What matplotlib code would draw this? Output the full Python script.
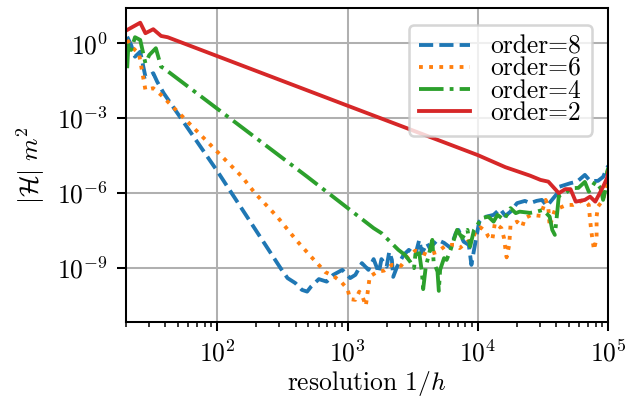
import numpy as np
import matplotlib
matplotlib.use("Agg")
import matplotlib.pyplot as plt

# Computer Modern look without a LaTeX install
plt.rcParams['font.family'] = 'serif'
plt.rcParams['font.serif'] = ['cmr10']
plt.rcParams['mathtext.fontset'] = 'cm'
plt.rcParams['axes.formatter.use_mathtext'] = True
plt.rcParams['axes.unicode_minus'] = False

# (log10 resolution, log10 |H|) pairs
order8 = [(1.31, 0.26), (1.34, -0.07), (1.37, -0.54), (1.41, -0.34), (1.45, -1.34),
          (1.49, -1.27), (1.51, -1.20), (1.54, -1.54), (1.59, -2.00), (2.00, -5.11),
          (2.49, -9.03), (2.54, -9.40), (2.60, -9.60), (2.65, -9.87), (2.69, -9.94),
          (2.72, -9.74), (2.78, -9.44), (2.84, -9.54), (2.89, -9.27), (2.96, -9.07),
          (3.02, -9.40), (3.06, -9.27), (3.11, -8.80), (3.16, -9.07), (3.20, -8.64),
          (3.24, -9.19), (3.26, -8.64), (3.30, -8.94), (3.32, -8.34), (3.34, -8.67),
          (3.35, -9.35), (3.38, -8.94), (3.43, -8.47), (3.47, -8.27), (3.52, -8.47),
          (3.55, -7.87), (3.57, -8.40), (3.61, -8.00), (3.63, -8.20), (3.69, -7.87),
          (3.74, -7.99), (3.79, -8.19), (3.83, -7.60), (3.85, -7.47), (3.89, -7.94),
          (3.93, -8.07), (3.95, -8.87), (3.97, -8.27), (4.01, -7.14), (4.04, -6.97),
          (4.12, -6.87), (4.17, -6.63), (4.21, -6.91), (4.25, -6.74), (4.30, -6.40),
          (4.36, -6.31), (4.40, -6.40), (4.45, -6.31), (4.49, -6.27), (4.53, -6.51),
          (4.61, -6.00), (4.62, -5.75), (4.71, -5.60), (4.76, -5.54), (4.82, -5.27),
          (4.86, -5.51), (4.92, -5.51), (4.96, -5.35), (4.99, -4.99), (5.00, -4.91)]

order6 = [(1.31, 0.13), (1.34, -0.11), (1.37, -0.27), (1.40, -0.40), (1.45, -1.87),
          (1.51, -1.80), (1.57, -2.07), (2.19, -5.34), (2.29, -6.00), (2.46, -6.94),
          (2.61, -7.90), (2.72, -8.54), (2.83, -9.16), (2.89, -9.31), (2.95, -9.54),
          (3.00, -9.84), (3.02, -10.24), (3.06, -10.27), (3.09, -9.94), (3.11, -10.07),
          (3.14, -10.51), (3.15, -10.14), (3.17, -9.34), (3.23, -9.14), (3.28, -9.10),
          (3.34, -8.87), (3.41, -8.91), (3.46, -8.56), (3.52, -8.30), (3.56, -8.36),
          (3.61, -8.47), (3.69, -8.35), (3.76, -8.07), (3.83, -8.07), (3.86, -8.20),
          (3.92, -7.94), (3.96, -7.87), (3.98, -7.54), (4.02, -7.37), (4.06, -7.54),
          (4.08, -7.74), (4.11, -7.87), (4.13, -7.20), (4.18, -7.40), (4.20, -7.80),
          (4.21, -8.20), (4.22, -8.57), (4.24, -8.07), (4.25, -7.27), (4.30, -7.14),
          (4.34, -7.34), (4.36, -7.00), (4.41, -6.87), (4.48, -6.91), (4.52, -6.27),
          (4.54, -6.60), (4.55, -7.34), (4.59, -6.67), (4.68, -6.47), (4.73, -6.47),
          (4.81, -6.27), (4.85, -6.47), (4.86, -7.07), (4.87, -7.55), (4.89, -8.27),
          (4.91, -7.79), (4.91, -6.94), (4.92, -6.54), (4.96, -6.27), (4.99, -5.60),
          (5.00, -5.15)]

order4 = [(1.31, -1.00), (1.32, 0.00), (1.34, -0.27), (1.37, 0.24), (1.41, 0.13),
          (1.45, -0.80), (1.48, -0.47), (1.53, -0.20), (1.57, -0.94), (1.59, -1.00),
          (2.69, -5.34), (3.20, -7.40), (3.26, -7.60), (3.39, -8.27), (3.44, -8.47),
          (3.48, -8.74), (3.51, -9.00), (3.52, -8.47), (3.55, -8.40), (3.57, -9.14),
          (3.58, -9.84), (3.60, -8.94), (3.62, -8.54), (3.65, -7.87), (3.66, -8.74),
          (3.69, -9.14), (3.70, -9.91), (3.71, -9.07), (3.74, -8.60), (3.76, -8.67),
          (3.79, -8.27), (3.84, -7.47), (3.88, -7.80), (3.92, -7.47), (3.94, -8.14),
          (3.97, -7.47), (4.03, -7.00), (4.08, -6.94), (4.12, -7.14), (4.15, -6.87),
          (4.20, -7.07), (4.25, -6.60), (4.29, -6.80), (4.32, -6.74), (4.40, -6.79),
          (4.45, -6.74), (4.50, -6.67), (4.55, -6.94), (4.57, -7.47), (4.59, -7.67),
          (4.61, -6.67), (4.62, -6.11), (4.67, -6.00), (4.72, -5.80), (4.77, -5.79),
          (4.82, -5.55), (4.85, -5.94), (4.90, -5.54), (4.94, -5.80), (4.96, -6.27),
          (4.98, -5.80), (4.99, -5.15), (5.00, -4.99)]

order2 = [(1.31, 0.53), (1.41, 0.82), (1.45, 0.40), (1.51, 0.56), (1.57, 0.29),
          (1.62, 0.24), (3.00, -2.50), (4.00, -4.48), (4.21, -4.96), (4.40, -5.30),
          (4.48, -5.47), (4.54, -5.54), (4.62, -6.00), (4.67, -5.84), (4.71, -5.84),
          (4.75, -6.34), (4.82, -6.27), (4.86, -6.14), (4.90, -6.34), (4.96, -5.74),
          (4.99, -5.40), (5.00, -5.15)]

series = [order8, order6, order4, order2]
labels = ['order=8', 'order=6', 'order=4', 'order=2']
colors = ['tab:blue', 'tab:orange', 'tab:green', 'tab:red']
styles = ['--', ':', '-.', '-']

# small figure at high dpi, so default sizes scale like the original
dpi = 184
fig = plt.figure(figsize=(638 / dpi, 401 / dpi), dpi=dpi)
ax = fig.add_axes([0.1975, 0.198, 0.756, 0.7815])

for pts, lab, c, ls in zip(series, labels, colors, styles):
    arr = np.array(pts)
    ax.plot(10 ** arr[:, 0], 10 ** arr[:, 1], ls, color=c, label=lab)

ax.set_xscale('log')
ax.set_yscale('log')
ax.set_xlim(20, 1e5)
ax.set_ylim(10 ** -11.14, 10 ** 1.4)
ax.set_yticks([1e0, 1e-3, 1e-6, 1e-9])
ax.grid(True, which='major')

ax.set_xlabel(r'resolution $1/h$', labelpad=1)
ax.set_ylabel(r'$|\mathcal{H}|\ m^2$')
# tighter rows, like the LaTeX-rendered legend
ax.legend(loc='upper right', labelspacing=-0.06, borderpad=0.4,
          borderaxespad=0.65)

fig.savefig('out.png', dpi=dpi)
